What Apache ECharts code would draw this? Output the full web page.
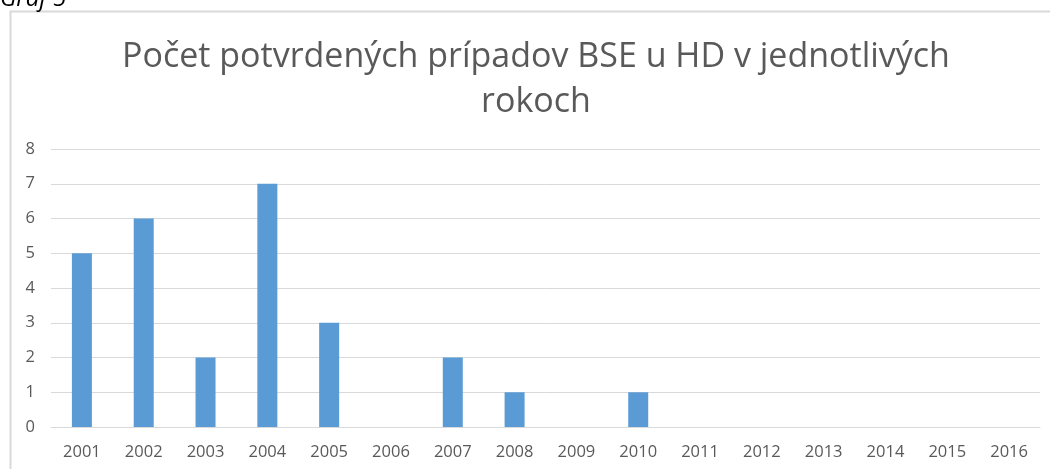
<!DOCTYPE html>
<html>
<head>
<meta charset="utf-8">
<script src="https://cdn.jsdelivr.net/npm/echarts@6/dist/echarts.min.js"></script>
<style>
    html, body { margin: 0; padding: 0; background: #fff; }
    #chart { width: 1050px; height: 469px; }
</style>
</head>
<body>
<div id="chart"></div>
<script>
    const years = ["2001", "2002", "2003", "2004", "2005", "2006", "2007", "2008",
                   "2009", "2010", "2011", "2012", "2013", "2014", "2015", "2016"];
    const cases = [5, 6, 2, 7, 3, 0, 2, 1, 0, 1, 0, 0, 0, 0, 0, 0];
    const yTicks = [0, 8, 1];   // min, max, interval

    let eChart = echarts.init(document.getElementById("chart"));
    eChart.setOption({
        animation: false,
        textStyle: { fontFamily: "Open Sans" },
        graphic: [
            {
                type: "rect",
                shape: { x: 10.5, y: 11.5, width: 1100, height: 500 },
                style: { fill: "none", stroke: "#d9d9d9", lineWidth: 2 },
                silent: true
            },
            {
                type: "text",
                left: 0,
                top: -13,
                style: { text: "Graf 5", fontSize: 24, fontStyle: "italic", fill: "#000", fontFamily: "Open Sans" }
            }
        ],
        title: {
            text: "Počet potvrdených prípadov BSE u HD v jednotlivých\nrokoch",
            left: 531,
            textAlign: "center",
            top: 30,
            textStyle: {
                fontFamily: "Open Sans",
                fontSize: 34,
                fontWeight: "normal",
                color: "#595959",
                lineHeight: 45
            }
        },
        grid: {
            left: 51,
            right: 10,
            top: 149,
            bottom: 42,
            containLabel: false
        },
        xAxis: {
            type: "category",
            data: years,
            axisLine: { show: true, lineStyle: { color: "#d9d9d9" } },
            axisTick: { show: false },
            axisLabel: { color: "#595959", fontSize: 16.5, margin: 17 }
        },
        yAxis: {
            type: "value",
            min: yTicks[0],
            max: yTicks[1],
            interval: yTicks[2],
            axisLine: { show: false },
            axisTick: { show: false },
            axisLabel: { color: "#595959", fontSize: 16.5, margin: 16 },
            splitLine: { lineStyle: { color: "#d9d9d9", width: 1 } }
        },
        series: [
            {
                type: "bar",
                data: cases,
                barWidth: 20,
                itemStyle: { color: "#5b9bd5" }
            }
        ]
    });
</script>
</body>
</html>
